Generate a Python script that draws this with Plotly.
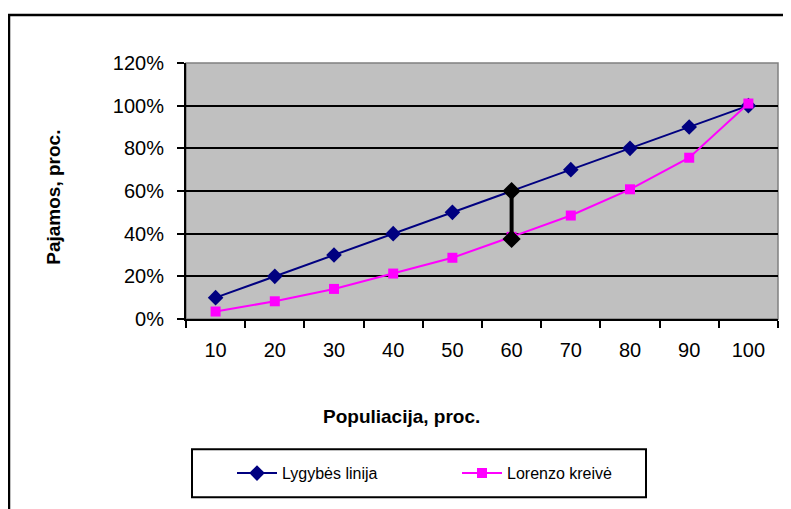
import plotly.graph_objects as go

categories = ["10", "20", "30", "40", "50", "60", "70", "80", "90", "100"]
equality = [0.10, 0.20, 0.30, 0.40, 0.50, 0.60, 0.70, 0.80, 0.90, 1.00]
lorenz = [0.035, 0.083, 0.141, 0.213, 0.287, 0.385, 0.485, 0.608, 0.756, 1.01]
gap_x = ["60", "60"]
gap_y = [0.60, 0.375]
y_ticks = [0, 0.2, 0.4, 0.6, 0.8, 1.0, 1.2]
y_ticktext = ["0%", "20%", "40%", "60%", "80%", "100%", "120%"]

OFF = 8  # default page body margin
W, H = 791 - OFF, 509 - OFF
L, R, T, B = 186 - OFF, 778 - OFF, 63 - OFF, 319.5 - OFF

def px(x):
    return (x - OFF - L) / (R - L)

def py(y):
    return (B - (y - OFF)) / (B - T)

FONT = "Arial, Liberation Sans, sans-serif"

fig = go.Figure()
fig.add_trace(go.Scatter(
    x=categories, y=equality, name="Lygybės linija", mode="lines+markers",
    line=dict(color="#000080", width=2),
    marker=dict(symbol="diamond", size=12, color="#000080"),
    legend="legend",
))
fig.add_trace(go.Scatter(
    x=categories, y=lorenz, name="Lorenzo kreivė", mode="lines+markers",
    line=dict(color="#FF00FF", width=2),
    marker=dict(symbol="square", size=10, color="#FF00FF"),
    legend="legend2",
))
fig.add_trace(go.Scatter(
    x=gap_x, y=gap_y, mode="lines+markers", showlegend=False,
    line=dict(color="#000000", width=4),
    marker=dict(symbol="diamond", size=14, color="#000000"),
))

leg_common = dict(
    orientation="h", yanchor="middle", xanchor="left",
    font=dict(size=16, family=FONT), bgcolor="rgba(0,0,0,0)",
    itemwidth=40, borderwidth=0,
)

fig.update_layout(
    width=W, height=H,
    margin=dict(l=L, r=W - R, t=T, b=H - B),
    paper_bgcolor="white",
    plot_bgcolor="#C0C0C0",
    font=dict(family=FONT, color="black"),
    showlegend=True,
    legend=dict(x=px(232), y=py(474), **leg_common),
    legend2=dict(x=px(457), y=py(474), **leg_common),
    xaxis=dict(
        type="category", range=[-0.5, 9.5], tickson="boundaries",
        ticks="outside", ticklen=7, tickwidth=2, tickcolor="black",
        showline=True, linecolor="black", linewidth=2,
        showgrid=False, tickfont=dict(size=20), ticklabelstandoff=12,
    ),
    yaxis=dict(
        range=[0, 1.2], tickvals=y_ticks, ticktext=y_ticktext,
        ticks="outside", ticklen=7, tickwidth=2, tickcolor="black",
        showline=True, linecolor="black", linewidth=2,
        showgrid=True, gridcolor="black", gridwidth=1.5,
        tickfont=dict(size=20), ticklabelstandoff=9, zeroline=False,
    ),
    shapes=[
        dict(type="rect", xref="paper", yref="paper",
             x0=px(9), x1=px(820), y0=py(15), y1=py(540),
             line=dict(color="black", width=2.5), layer="below"),
        dict(type="rect", xref="paper", yref="paper",
             x0=0, x1=1, y0=0, y1=1,
             line=dict(color="#808080", width=1.5), layer="below"),
        dict(type="rect", xref="paper", yref="paper",
             x0=px(192), x1=px(646), y0=py(450), y1=py(498),
             line=dict(color="black", width=2), fillcolor="white", layer="below"),
    ],
    annotations=[
        dict(text="<b>Populiacija, proc.</b>", xref="paper", yref="paper",
             x=px(401), y=py(417), showarrow=False, font=dict(size=19),
             xanchor="center", yanchor="middle"),
        dict(text="<b>Pajamos, proc.</b>", xref="paper", yref="paper",
             x=px(54), y=py(198), showarrow=False, font=dict(size=19),
             textangle=-90, xanchor="center", yanchor="middle"),
    ],
)

fig.write_html("out.html")
